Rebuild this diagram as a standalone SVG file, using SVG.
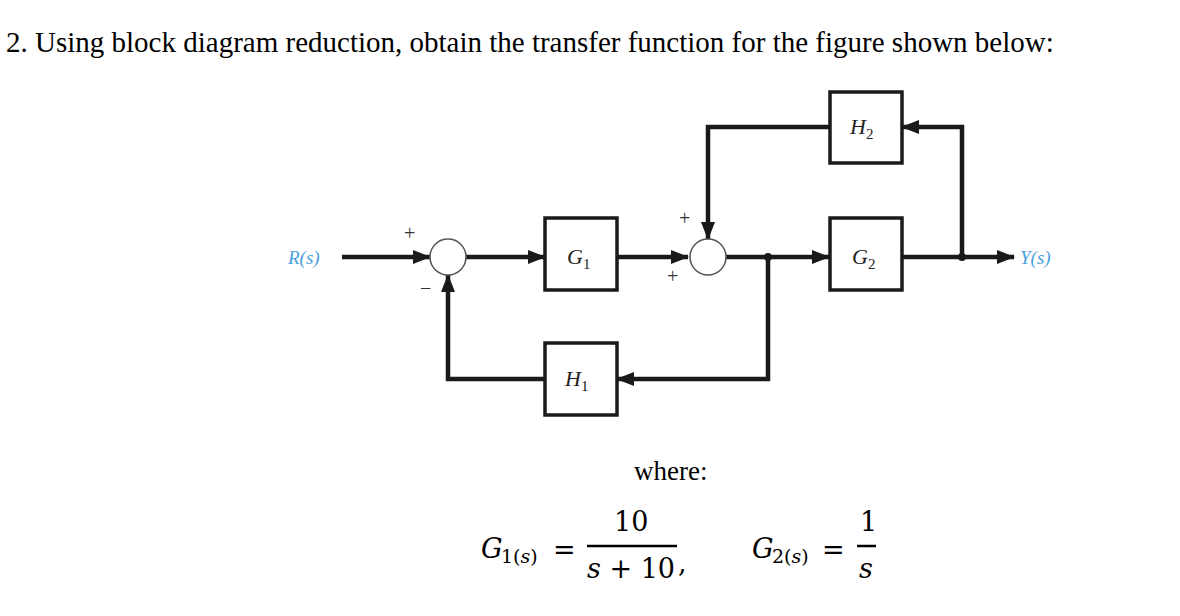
<svg xmlns="http://www.w3.org/2000/svg" width="1180" height="616" viewBox="0 0 1180 616">
<style>
.ln{stroke:#1a1a1a;stroke-width:4.5;fill:none}
.bx{stroke:#1a1a1a;stroke-width:3.5;fill:#fff}
.sj{stroke:#555;stroke-width:1.5;fill:#fff}
.lb{font-family:"Liberation Serif",serif;font-style:italic;font-size:22px;fill:#222}
.sg{font-family:"Liberation Serif",serif;font-size:20px;fill:#333}
.bl{font-family:"Liberation Serif",serif;font-style:italic;font-size:19px;fill:#4a9fe0}
.eq{font-family:"DejaVu Serif","Liberation Serif",serif;font-size:27px;fill:#000}
</style>
<defs><marker id="a" markerWidth="8" markerHeight="8" refX="7" refY="4" orient="auto" markerUnits="userSpaceOnUse"><path d="M0,0 L8,4 L0,8z" fill="#1a1a1a" transform="scale(1)"/></marker>
<marker id="b" markerWidth="18" markerHeight="14" refX="17" refY="7" orient="auto" markerUnits="userSpaceOnUse"><path d="M0,0 L18,7 L0,14z" fill="#1a1a1a"/></marker></defs>
<text x="6" y="52" font-family="Liberation Serif,serif" font-size="29" fill="#000">2. Using block diagram reduction, obtain the transfer function for the figure shown below:</text>
<g id="connectors">
<path class="ln" d="M342,257 H430" marker-end="url(#b)"/>
<path class="ln" d="M466,257 H545" marker-end="url(#b)"/>
<path class="ln" d="M617,257 H688" marker-end="url(#b)"/>
<path class="ln" d="M724,257 H829" marker-end="url(#b)"/>
<path class="ln" d="M902,257 H1014" marker-end="url(#b)"/>
<path class="ln" d="M962,257 V127 H902" marker-end="url(#b)"/>
<path class="ln" d="M829,127 H708 V239" marker-end="url(#b)"/>
<path class="ln" d="M768,257 V379 H617" marker-end="url(#b)"/>
<path class="ln" d="M545,379 H448 V275" marker-end="url(#b)"/>
<circle cx="768" cy="257" r="4" fill="#1a1a1a"/>
<circle cx="962" cy="257" r="4" fill="#1a1a1a"/>
</g>
<g id="sum1"><circle class="sj" cx="448" cy="257" r="18"/><text class="sg" x="404" y="240">+</text><text class="sg" x="420" y="295">−</text></g>
<g id="sum2"><circle class="sj" cx="708" cy="257" r="18"/><text class="sg" x="679" y="225">+</text><text class="sg" x="667" y="283">+</text></g>
<g id="G1"><rect class="bx" x="545" y="218" width="72" height="72"/><text class="lb" x="567" y="264">G<tspan font-style="normal" font-size="15" dy="5">1</tspan></text></g>
<g id="G2"><rect class="bx" x="830" y="218" width="72" height="72"/><text class="lb" x="852" y="264">G<tspan font-style="normal" font-size="15" dy="5">2</tspan></text></g>
<g id="H2"><rect class="bx" x="830" y="92" width="72" height="71"/><text class="lb" x="850" y="134">H<tspan font-style="normal" font-size="15" dy="5">2</tspan></text></g>
<g id="H1"><rect class="bx" x="545" y="343" width="72" height="72"/><text class="lb" x="565" y="386">H<tspan font-style="normal" font-size="15" dy="5">1</tspan></text></g>
<text class="bl" x="288" y="264">R(s)</text>
<text class="bl" x="1020" y="264">Y(s)</text>
<text x="634" y="480" font-family="Liberation Serif,serif" font-size="27" fill="#000">where:</text>
<g class="eq">
<text x="481" y="558" font-style="italic">G</text><text x="501" y="563" font-size="19">1(<tspan font-style="italic">s</tspan>)</text>
<text x="553" y="559">=</text>
<text x="614" y="531">10</text>
<line x1="587" y1="546" x2="677" y2="546" stroke="#000" stroke-width="2.5"/>
<text x="587" y="578"><tspan font-style="italic">s</tspan> + 10</text><text x="678" y="572">,</text>
<text x="752" y="558" font-style="italic">G</text><text x="772" y="563" font-size="19">2(<tspan font-style="italic">s</tspan>)</text>
<text x="822" y="559">=</text>
<text x="860" y="531">1</text>
<line x1="857" y1="546" x2="876" y2="546" stroke="#000" stroke-width="2.5"/>
<text x="859" y="578" font-style="italic">s</text>
</g>
</svg>
